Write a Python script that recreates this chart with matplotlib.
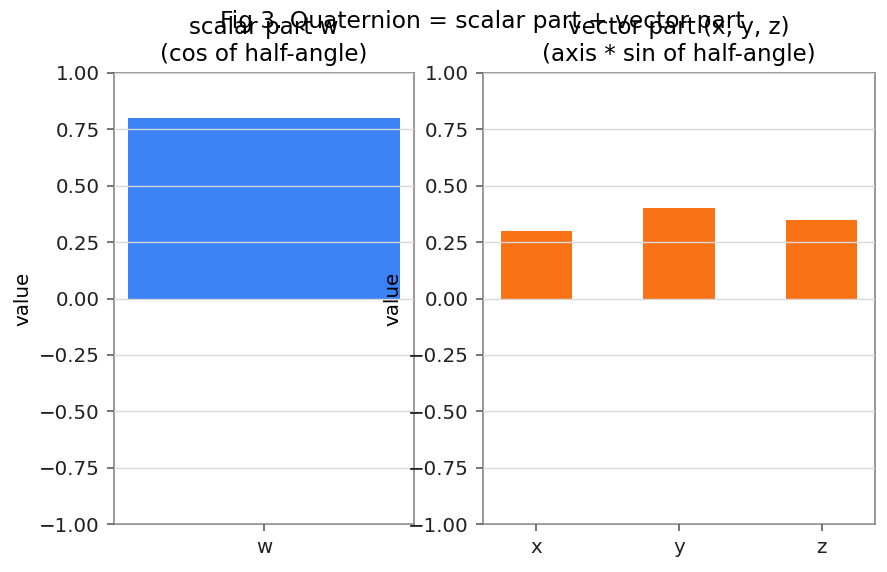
import matplotlib
matplotlib.use("Agg")
import matplotlib.pyplot as plt

# quaternion components
scalar_labels = ["w"]
scalar_values = [0.8]
vector_labels = ["x", "y", "z"]
vector_values = [0.3, 0.4, 0.35]
yticks = [-1.0, -0.75, -0.5, -0.25, 0.0, 0.25, 0.5, 0.75, 1.0]

plt.rcParams["font.family"] = ["DejaVu Sans"]

W, H = 887, 572
fig = plt.figure(figsize=(W / 143, H / 143), dpi=143)

def px_axes(x0, y0, x1, y1):
    return fig.add_axes([x0 / W, 1 - y1 / H, (x1 - x0) / W, (y1 - y0) / H])

ax1 = px_axes(114, 73, 414, 524)
ax2 = px_axes(483, 73, 875, 524)

ax1.bar(scalar_labels, scalar_values, width=0.8, color="#3b82f6", zorder=1)
ax2.bar(vector_labels, vector_values, width=0.5, color="#f97316", zorder=1)

ax1.set_title("scalar part w\n(cos of half-angle)", fontsize=11.6, pad=6)
ax2.set_title("vector part (x, y, z)\n(axis * sin of half-angle)", fontsize=11.6, pad=6)

for ax in (ax1, ax2):
    ax.set_ylim(-1, 1)
    ax.set_yticks(yticks)
    ax.set_ylabel("value", fontsize=10)
    ax.grid(axis="y", color="#d8d8d8", linewidth=0.7, zorder=2)
    ax.set_axisbelow(False)
    for s in ax.spines.values():
        s.set_color("#808080")
    ax.tick_params(colors="#555555", labelcolor="#222222", labelsize=10)

ax1.yaxis.set_label_coords(-0.273, 0.5)
ax2.yaxis.set_label_coords(-0.205, 0.5)

fig.suptitle("Fig 3. Quaternion = scalar part + vector part", fontsize=11.8,
             x=0.544, y=0.982)

fig.savefig("out.png", dpi=143)
